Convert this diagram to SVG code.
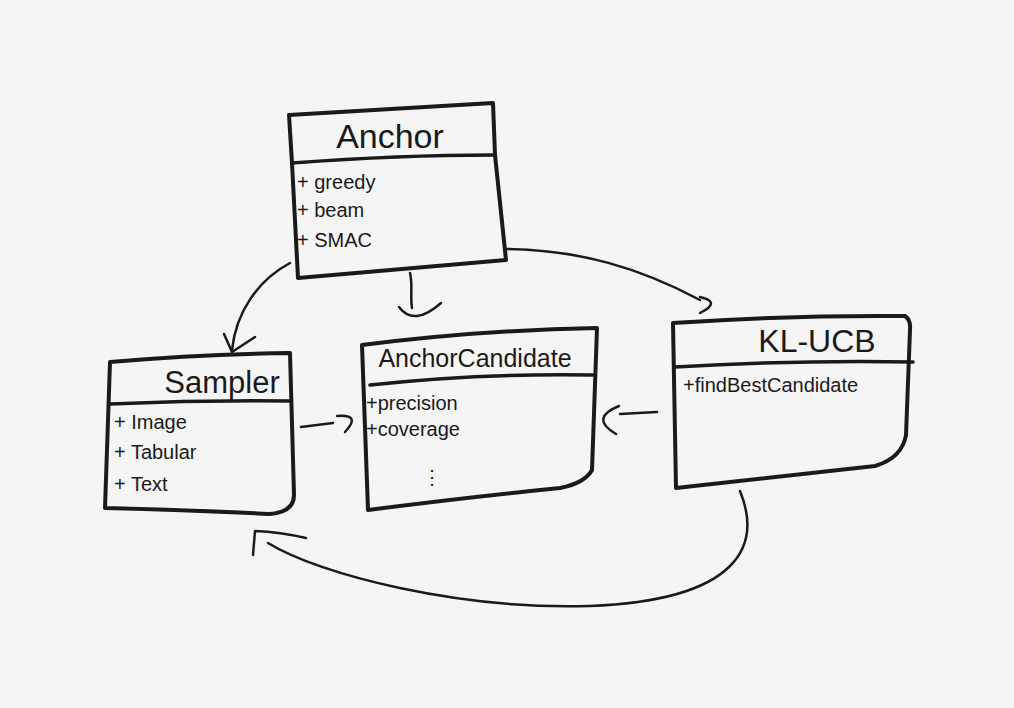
<svg xmlns="http://www.w3.org/2000/svg" width="1014" height="708" viewBox="0 0 1014 708">
<style>
.box{fill:none;stroke:#1a1a1a;stroke-width:4;stroke-linecap:round;stroke-linejoin:round}
.div{fill:none;stroke:#1a1a1a;stroke-width:3.5;stroke-linecap:round}
.con{fill:none;stroke:#1a1a1a;stroke-width:2.5;stroke-linecap:round;stroke-linejoin:round}
.title{font-family:"Liberation Sans",Arial,sans-serif;fill:#1a1a1a}
.item{font-family:"Liberation Sans",Arial,sans-serif;fill:#1a1a1a;font-size:20px}
</style>
<rect width="1014" height="708" fill="#f5f5f5"/>
<g id="connectors">
  <path class="con" d="M290,263 C258,280 236,312 232,350"/>
  <path class="con" d="M224,334 L232,352 L255,337"/>
  <path class="con" d="M410,273 C413,285 410,296 412,308"/>
  <path class="con" d="M399,307 Q414,327 441,303"/>
  <path class="con" d="M507,249 C580,250 640,268 700,300"/>
  <path class="con" d="M700,297 Q722,302 700,313"/>
  <path class="con" d="M301,427 L333,423"/>
  <path class="con" d="M337,416 Q362,414 345,432"/>
  <path class="con" d="M657,412 L620,414"/>
  <path class="con" d="M619,406 Q589,418 616,434"/>
  <path class="con" d="M740,491 C762,545 740,600 590,606 C460,610 320,575 268,543"/>
  <path class="con" d="M253,555 L255,531 Q280,532 306,538"/>
</g>
<g id="anchor">
  <path class="box" d="M289,115 L493,103 L495,155 L506,260 L298,278 L292,163 Z"/>
  <path class="div" d="M292,163 Q400,155 494,155"/>
  <text class="title" x="390" y="148" font-size="34" text-anchor="middle">Anchor</text>
  <text class="item" x="297" y="189">+ greedy</text>
  <text class="item" x="297" y="217">+  beam</text>
  <text class="item" x="297" y="247">+ SMAC</text>
</g>
<g id="sampler">
  <path class="box" d="M110,362 Q200,354 290,353 L294,495 Q294,512 270,514 Q190,510 105,508 Z"/>
  <path class="div" d="M110,404 Q200,400 290,401"/>
  <text class="title" x="222" y="393" font-size="31" text-anchor="middle">Sampler</text>
  <text class="item" x="114" y="429">+ Image</text>
  <text class="item" x="114" y="459">+ Tabular</text>
  <text class="item" x="114" y="491">+ Text</text>
</g>
<g id="anchorcandidate">
  <path class="box" d="M362,345 Q480,330 597,328 L592,470 Q585,483 560,488 Q460,498 368,510 Z"/>
  <path class="div" d="M370,385 Q480,373 593,375"/>
  <text class="title" x="475" y="367" font-size="25" text-anchor="middle">AnchorCandidate</text>
  <text class="item" x="366" y="410">+precision</text>
  <text class="item" x="366" y="436">+coverage</text>
  <text class="item" x="422" y="484" font-size="32">⋮</text>
</g>
<g id="klucb">
  <path class="box" d="M673,323 Q790,315 905,316 Q911,320 910,330 L906,435 Q902,458 875,466 Q770,478 676,488 L673,323 Z"/>
  <path class="div" d="M675,367 Q795,360 913,362"/>
  <text class="title" x="817" y="352" font-size="32" text-anchor="middle">KL-UCB</text>
  <text class="item" x="683" y="392" font-size="18">+findBestCandidate</text>
</g>
</svg>
